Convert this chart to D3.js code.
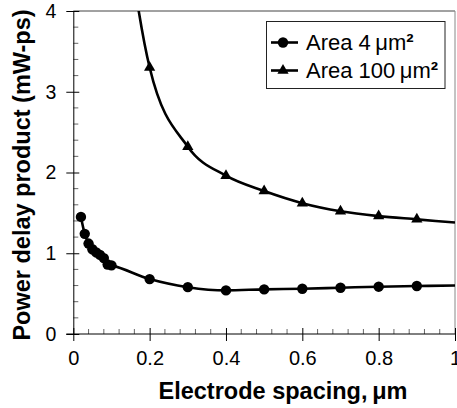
<!DOCTYPE html>
<html><head><meta charset="utf-8">
<script src="https://cdn.jsdelivr.net/npm/d3@7"></script>
<style>body{margin:0;background:#fff}text{font-family:"Liberation Sans",Arial,sans-serif}</style>
</head><body><svg id="c" width="457" height="408"></svg>
<script>
// Data
const xSmall = [0.02,0.03,0.04,0.05,0.06,0.07,0.08,0.09,0.10,0.2,0.3,0.4,0.5,0.6,0.7,0.8,0.9,1.0];
const ySmall = [1.45,1.24,1.12,1.05,1.01,0.98,0.94,0.86,0.85,0.68,0.58,0.54,0.553,0.56,0.573,0.586,0.594,0.60];
const xLarge = [0.1,0.2,0.3,0.4,0.5,0.6,0.7,0.8,0.9,1.0];
const yLarge = [6.5,3.30,2.32,1.96,1.77,1.62,1.52,1.46,1.42,1.38];
const seriesNames = ["Area 4", "Area 100"];
const xTicks = [0,0.2,0.4,0.6,0.8,1];
const xTickLabels = ["0","0.2","0.4","0.6","0.8","1"];
const yTicks = [0,1,2,3,4];
const yTickLabels = ["0","1","2","3","4"];

const svg = d3.select("#c");
const L=73.3, R=455, T=11, B=334;
const x = d3.scaleLinear().domain([0,1]).range([L,R]);
const y = d3.scaleLinear().domain([0,4]).range([B,T]);

svg.append("defs").append("clipPath").attr("id","clip")
  .append("rect").attr("x",L).attr("y",T).attr("width",R-L).attr("height",B-T);

// frame top/right
svg.append("line").attr("x1",L).attr("x2",R).attr("y1",T).attr("y2",T).attr("stroke","#444").attr("stroke-width",1);
svg.append("line").attr("x1",R).attr("x2",R).attr("y1",T).attr("y2",B).attr("stroke","#888").attr("stroke-width",1);

// minor ticks
const xMinor = d3.range(0,1.0001,0.04).filter(v=>Math.abs(v/0.2-Math.round(v/0.2))>1e-6);
svg.append("g").selectAll("line").data(xMinor).join("line")
  .attr("x1",d=>x(d)).attr("x2",d=>x(d)).attr("y1",B).attr("y2",B-5)
  .attr("stroke","#666").attr("stroke-width",1);
const yMinor = d3.range(0,4.0001,0.2).filter(v=>Math.abs(v-Math.round(v))>1e-6);
svg.append("g").selectAll("line").data(yMinor).join("line")
  .attr("x1",L).attr("x2",L+5).attr("y1",d=>y(d)).attr("y2",d=>y(d))
  .attr("stroke","#666").attr("stroke-width",1);

// axes
const xAxis = d3.axisBottom(x).tickValues(xTicks).tickFormat((d,i)=>xTickLabels[i]).tickSizeInner(7).tickSizeOuter(0).tickPadding(10);
const gx = svg.append("g").attr("transform",`translate(0,${B})`).call(xAxis);
gx.selectAll(".tick line").attr("y1",-6).attr("stroke","#000");
gx.select(".domain").attr("stroke","#000").attr("d",`M${L-7},0H${R}`);
gx.selectAll("text").attr("font-size",20).attr("fill","#000").style("font-family","Liberation Sans, Arial");

const yAxis = d3.axisLeft(y).tickValues(yTicks).tickFormat((d,i)=>yTickLabels[i]).tickSizeInner(7).tickSizeOuter(0).tickPadding(10);
const gy = svg.append("g").attr("transform",`translate(${L},0)`).call(yAxis);
gy.selectAll(".tick line").attr("x1",6).attr("stroke","#000");
gy.select(".domain").attr("stroke","#000");
gy.selectAll("text").attr("font-size",19.5).attr("fill","#000").style("font-family","Liberation Sans, Arial");

// lines
const line = d3.line().x(d=>x(d[0])).y(d=>y(d[1])).curve(d3.curveMonotoneX);
const dS = xSmall.map((v,i)=>[v,ySmall[i]]);
const dL = xLarge.map((v,i)=>[v,yLarge[i]]);
const plot = svg.append("g").attr("clip-path","url(#clip)");
plot.append("path").datum(dS).attr("d",line).attr("fill","none").attr("stroke","#000").attr("stroke-width",2.6);
plot.append("path").datum(dL).attr("d",line).attr("fill","none").attr("stroke","#000").attr("stroke-width",2.6);
const circ = d3.symbol().type(d3.symbolCircle).size(85);
const tri = d3.symbol().type(d3.symbolTriangle).size(55);
plot.selectAll(".c").data(dS.filter(d=>d[0]<1)).join("path").attr("class","c")
  .attr("transform",d=>`translate(${x(d[0])},${y(d[1])})`).attr("d",circ).attr("fill","#000");
plot.selectAll(".t").data(dL.filter(d=>d[0]<1)).join("path").attr("class","t")
  .attr("transform",d=>`translate(${x(d[0])},${y(d[1])})`).attr("d",tri).attr("fill","#000");

// legend
const lg = svg.append("g");
lg.append("rect").attr("x",266.5).attr("y",21.5).attr("width",178.5).attr("height",67).attr("fill","#fff").attr("stroke","#222").attr("stroke-width",1);
const rows = [{n:seriesNames[0],s:circ,yy:42.5},{n:seriesNames[1],s:tri,yy:70.5}];
rows.forEach(r=>{
  lg.append("line").attr("x1",271).attr("x2",298).attr("y1",r.yy).attr("y2",r.yy).attr("stroke","#000").attr("stroke-width",2.6);
  lg.append("path").attr("transform",`translate(283,${r.yy})`).attr("d",r.s).attr("fill","#000");
  const t = lg.append("text").attr("x",306).attr("y",r.yy+7.5).attr("font-size",22).attr("fill","#000");
  t.append("tspan").text(r.n+"\u2009");
  t.append("tspan").text("\u03bcm");
  t.append("tspan").text("\u00b2").attr("font-weight","bold");
});

// axis titles
svg.append("text").attr("x",283).attr("y",399).attr("text-anchor","middle").attr("font-size",23.5).attr("font-weight","bold").text("Electrode spacing,\u2009\u03bcm");
svg.append("text").attr("transform","translate(30,175) rotate(-90)").attr("text-anchor","middle").attr("font-size",23.5).attr("font-weight","bold").text("Power delay product (mW-ps)");
</script></body></html>
